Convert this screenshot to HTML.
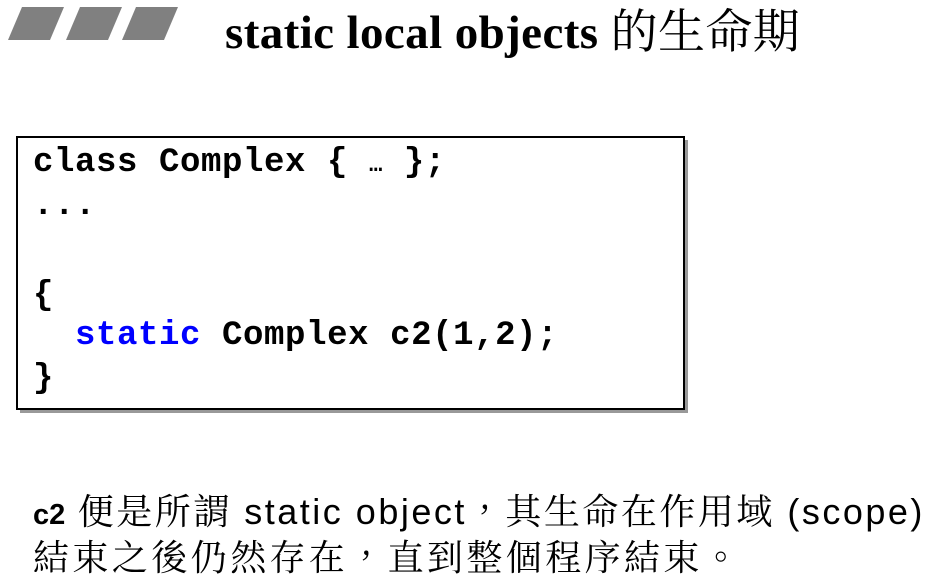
<!DOCTYPE html>
<html><head><meta charset="utf-8"><style>
body{margin:0;width:934px;height:579px;background:#fff;position:relative;overflow:hidden}
.t{position:absolute;white-space:pre}
.code{font-family:"Liberation Mono",monospace;font-weight:bold;font-size:34px;letter-spacing:0.6px;color:#000}
</style></head><body>
<svg width="934" height="579" style="position:absolute;left:0;top:0">
<polygon points="22,7 64,7 50,40 8,40" fill="#808080"/>
<polygon points="80,7 122,7 108,40 66,40" fill="#808080"/>
<polygon points="136,7 178,7 164,40 122,40" fill="#808080"/>
<rect x="20" y="140" width="668" height="273" fill="#999"/>
<rect x="17" y="137" width="667" height="272" fill="#fff" stroke="#000" stroke-width="2"/>
</svg>
<div class="t" style="left:225px;top:-5px;font-family:'Liberation Serif','Noto Serif CJK SC',serif;font-weight:bold;font-size:47px;letter-spacing:0.4px">static local objects <span style="font-weight:normal">的生命期</span></div>
<div class="t code" style="left:33px;top:144px">class Complex { <span style="font-size:22px">…</span> };</div>
<div class="t code" style="left:33px;top:187px">...</div>
<div class="t code" style="left:33px;top:277px">{</div>
<div class="t code" style="left:33px;top:317px">  <span style="color:#0000ff">static</span> Complex c2(1,2);</div>
<div class="t code" style="left:33px;top:360px">}</div>
<div class="t" style="left:33px;top:484px;font-family:'Liberation Sans','Noto Serif CJK TC',sans-serif;font-size:36px;letter-spacing:2.5px"><b style="font-size:29px;letter-spacing:0">c2</b> 便是所謂 static object，其生命在作用域 (scope)</div>
<div class="t" style="left:33px;top:530px;font-family:'Liberation Sans','Noto Serif CJK TC',sans-serif;font-size:36px;letter-spacing:3.4px">結束之後仍然存在，直到整個程序結束。</div>
</body></html>
